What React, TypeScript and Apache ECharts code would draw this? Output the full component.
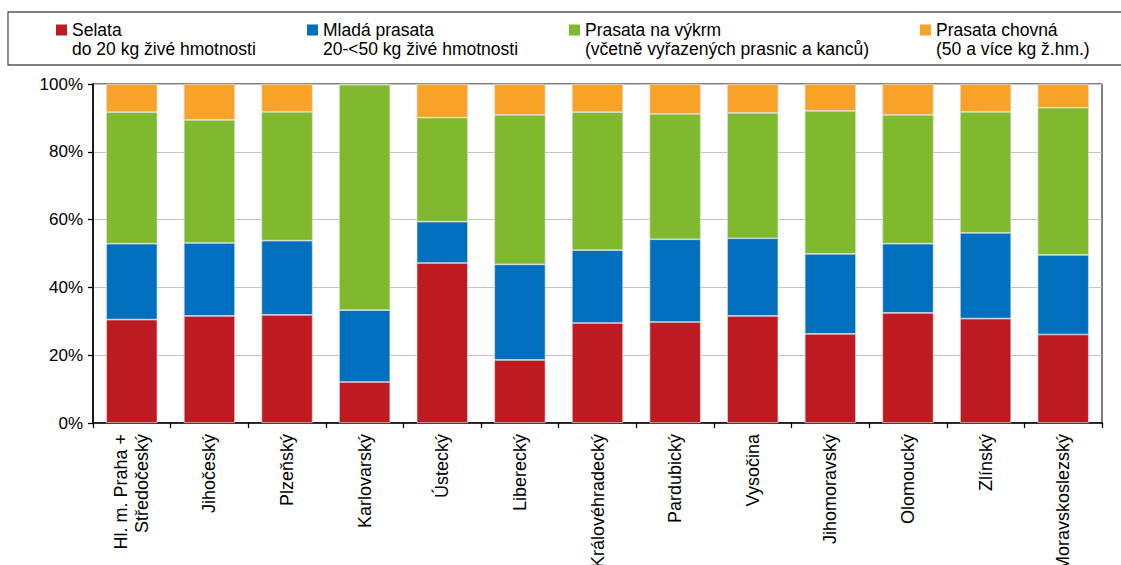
import React, { useEffect, useRef } from "react";
import * as echarts from "echarts";

const categories = [
  "Hl. m. Praha +\nStředočeský",
  "Jihočeský",
  "Plzeňský",
  "Karlovarský",
  "Ústecký",
  "Liberecký",
  "Královéhradecký",
  "Pardubický",
  "Vysočina",
  "Jihomoravský",
  "Olomoucký",
  "Zlínský",
  "Moravskoslezský",
];

const selata = [30.5, 31.6, 31.9, 12.1, 47.2, 18.6, 29.5, 29.8, 31.6, 26.3, 32.5, 30.8, 26.1];
const mlada = [22.4, 21.5, 21.9, 21.2, 12.2, 28.2, 21.5, 24.4, 22.9, 23.6, 20.4, 25.3, 23.5];
const vykrm = [38.8, 36.3, 38.0, 66.5, 30.7, 44.1, 40.7, 37.0, 37.0, 42.2, 38.0, 35.7, 43.4];
const chovna = [8.3, 10.6, 8.2, 0.2, 9.9, 9.1, 8.3, 8.8, 8.5, 7.9, 9.1, 8.2, 7.0];

const seriesNames = [
  "Selata\ndo 20 kg živé hmotnosti",
  "Mladá prasata\n20-<50 kg živé hmotnosti",
  "Prasata na výkrm\n(včetně vyřazených prasnic a kanců)",
  "Prasata chovná\n(50 a více kg ž.hm.)",
];
const seriesData = [selata, mlada, vykrm, chovna];
const colors = ["#BE1A22", "#0070BE", "#7FBA2E", "#F9A228"];
const legendLefts = [56, 307, 569, 920];

const FONT = "'Liberation Sans', Arial, sans-serif";

export default function App() {
  const ref = useRef<HTMLDivElement>(null);
  useEffect(() => {
    document.body.style.margin = "0";
    if (!ref.current) return;
    const chart = echarts.init(ref.current, null, { renderer: "svg" });
    const LH = 19;
    const IH = 11 + LH; // icon box height: square at top, empty below
    chart.setOption({
      animation: false,
      textStyle: { fontFamily: FONT },
      graphic: [
        {
          type: "rect",
          shape: { x: 8, y: 12, width: 1125, height: 53 },
          style: { fill: "none", stroke: "#555", lineWidth: 1.3 },
          silent: true,
        },
      ],
      legend: seriesNames.map((n, i) => ({
        data: [n],
        left: legendLefts[i],
        top: 30 - 5.5 - (LH - IH / 2),
        padding: 0,
        itemWidth: 11,
        itemHeight: IH,
        icon: `path://M0,0H11V11H0Z M0,${IH}L0.001,${IH}`,
        itemStyle: { borderWidth: 0 },
        selectedMode: false,
        textStyle: {
          fontFamily: FONT,
          fontSize: 17.5,
          color: "#000",
          lineHeight: LH,
        },
      })),
      grid: {
        left: 93,
        right: 19,
        top: 84,
        bottom: 142,
        containLabel: false,
        outerBoundsMode: "none",
        show: true,
        borderColor: "#000",
        borderWidth: 1,
        backgroundColor: "transparent",
      },
      xAxis: {
        type: "category",
        data: categories,
        axisLine: { lineStyle: { color: "#000", width: 1.6 } },
        axisTick: { show: true, length: 5, lineStyle: { color: "#000", width: 1.3 } },
        axisLabel: {
          interval: 0,
          rotate: 90,
          fontSize: 18,
          color: "#000",
          fontFamily: FONT,
          margin: 11,
          lineHeight: 21,
        },
      },
      yAxis: {
        type: "value",
        min: 0,
        max: 100,
        interval: 20,
        axisLine: { show: true, lineStyle: { color: "#000", width: 1.6 } },
        axisTick: { show: true, length: 5, lineStyle: { color: "#000", width: 1.3 } },
        axisLabel: {
          formatter: "{value}%",
          fontSize: 17,
          color: "#000",
          fontFamily: FONT,
          margin: 10,
        },
        splitLine: { lineStyle: { color: "#c4c4c4", width: 1 } },
      },
      series: seriesNames.map((n, i) => ({
        name: n,
        type: "bar",
        stack: "total",
        barWidth: "66%",
        data: seriesData[i],
        itemStyle: { color: colors[i], borderColor: "#dcdcdc", borderWidth: 0.7 },
      })),
    });
    return () => chart.dispose();
  }, []);
  return <div ref={ref} style={{ width: 1121, height: 565 }} />;
}
